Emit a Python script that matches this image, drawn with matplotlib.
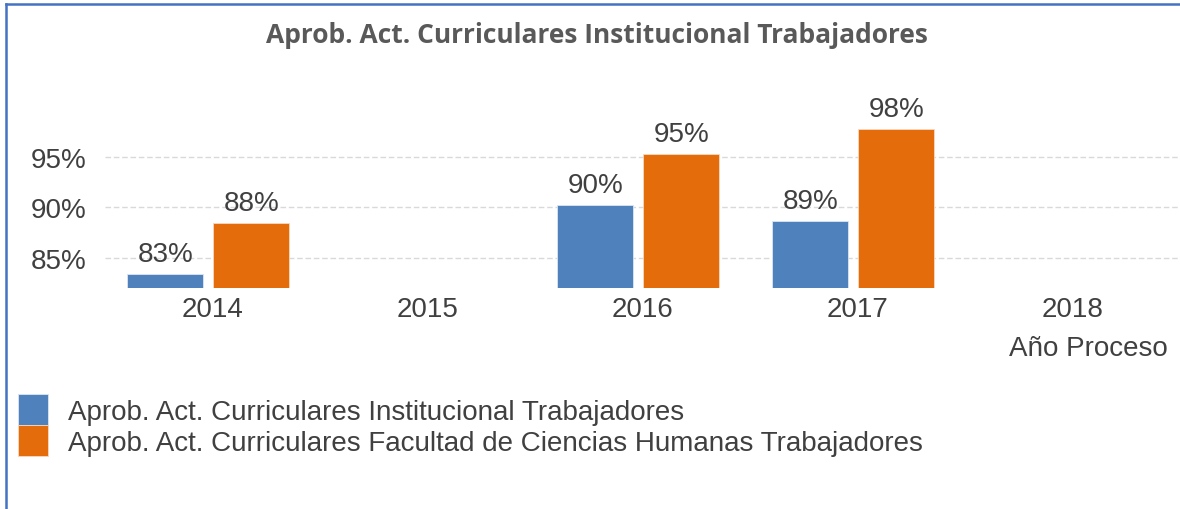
import numpy as np
import matplotlib.pyplot as plt
from matplotlib.lines import Line2D
from matplotlib.ticker import FuncFormatter

# Datos
anios = ['2014', '2015', '2016', '2017', '2018']
institucional = [83.4, np.nan, 90.2, 88.6, np.nan]
facultad = [88.4, np.nan, 95.3, 97.7, np.nan]
etiquetas_inst = ['83%', '', '90%', '89%', '']
etiquetas_fac = ['88%', '', '95%', '98%', '']
serie_inst = 'Aprob. Act. Curriculares Institucional Trabajadores'
serie_fac = 'Aprob. Act. Curriculares Facultad de Ciencias Humanas Trabajadores'
titulo = 'Aprob. Act. Curriculares Institucional Trabajadores'

azul = '#4F81BD'
naranja = '#E46C0A'
gris_texto = '#404040'
tam = 20

plt.rcParams['font.family'] = ['Liberation Sans', 'DejaVu Sans']

fig = plt.figure(figsize=(11.8, 5.1), dpi=100)
ax = fig.add_axes([105 / 1180, 0.4333, 1075 / 1180, 0.347])

x = np.arange(len(anios))
ancho = 0.355
desp = 0.02  # las barras quedan un poco a la izquierda de la etiqueta
b1 = ax.bar(x - 0.2 - desp, institucional, ancho, color=azul,
            edgecolor='#dde6f2', linewidth=0.6, label=serie_inst, zorder=3)
b2 = ax.bar(x + 0.2 - desp, facultad, ancho, color=naranja,
            edgecolor='#f7d9c0', linewidth=0.6, label=serie_fac, zorder=3)

# Etiquetas de datos
for i in range(len(anios)):
    if not np.isnan(institucional[i]):
        ax.annotate(etiquetas_inst[i], (x[i] - 0.2 - desp, institucional[i]),
                    xytext=(0, 5), textcoords='offset points', ha='center',
                    va='bottom', fontsize=tam, color=gris_texto, annotation_clip=False)
    if not np.isnan(facultad[i]):
        ax.annotate(etiquetas_fac[i], (x[i] + 0.2 - desp, facultad[i]),
                    xytext=(0, 5), textcoords='offset points', ha='center',
                    va='bottom', fontsize=tam, color=gris_texto, annotation_clip=False)

ax.set_xlim(-0.5, len(anios) - 0.5)
ax.set_ylim(82, 99.5)
ax.set_yticks([85, 90, 95])
ax.yaxis.set_major_formatter(FuncFormatter(lambda v, p: f'{v:.0f}%'))
ax.set_xticks(x)
ax.set_xticklabels(anios)
ax.tick_params(axis='both', length=0, labelsize=tam, labelcolor=gris_texto)
ax.tick_params(axis='x', pad=6)
ax.tick_params(axis='y', pad=13)
ax.grid(axis='y', color='#d9d9d9', linestyle=(0, (4, 2)), linewidth=1, zorder=0)
for s in ax.spines.values():
    s.set_visible(False)

ax.set_xlabel('Año Proceso', fontsize=tam, color=gris_texto)
ax.xaxis.set_label_coords(0.9888, -0.265, transform=ax.transAxes)
ax.xaxis.label.set_horizontalalignment('right')

fig.text(0.506, 0.93, titulo, ha='center', va='center', fontsize=19,
         fontweight='bold', color='#595959', family=['Open Sans', 'DejaVu Sans'])

fig.legend(handles=[b1, b2], labels=[serie_inst, serie_fac], loc='upper left',
           bbox_to_anchor=(0.0153, 0.2255), frameon=False, fontsize=tam,
           handlelength=1.08, handleheight=1.35, handletextpad=0.72,
           labelspacing=0.0, borderpad=0, borderaxespad=0, labelcolor=gris_texto)

# Borde azul del recuadro
borde = '#4472C4'
fig.add_artist(Line2D([6 / 1180, 1], [1 - 5 / 510, 1 - 5 / 510], color=borde, lw=1.8))
fig.add_artist(Line2D([6 / 1180, 6 / 1180], [0, 1 - 5 / 510], color=borde, lw=1.8))

fig.savefig('out.png', dpi=100)
